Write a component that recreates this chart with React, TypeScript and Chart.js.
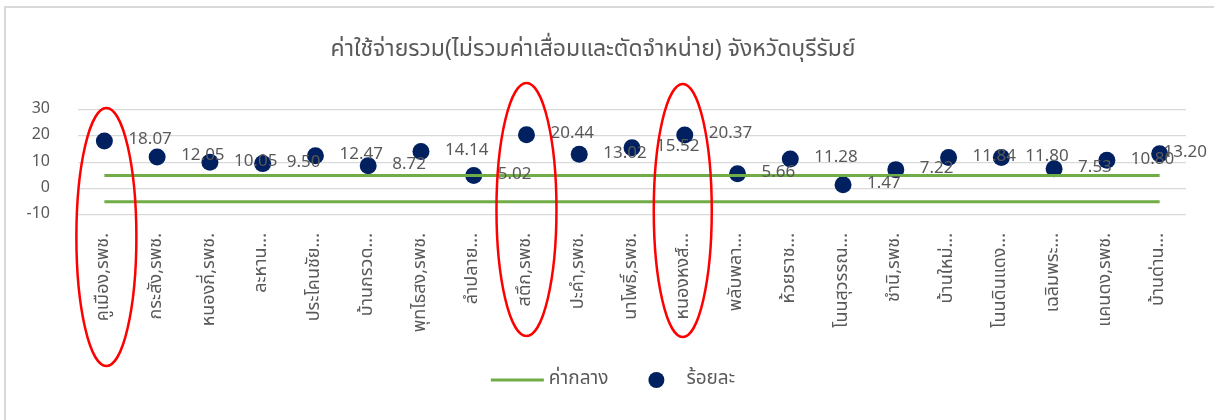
import React, { useEffect, useRef } from "react";
import { Chart, registerables } from "chart.js";

Chart.register(...registerables);

// ---------- data ----------
const chartTitle = "ค่าใช้จ่ายรวม(ไม่รวมค่าเสื่อมและตัดจำหน่าย) จังหวัดบุรีรัมย์";

const hospitalLabels = [
  "คูเมือง,รพช.",
  "กระสัง,รพช.",
  "หนองกี่,รพช.",
  "ละหาน...",
  "ประโคนชัย...",
  "บ้านกรวด...",
  "พุทไธสง,รพช.",
  "ลำปลาย...",
  "สตึก,รพช.",
  "ปะคำ,รพช.",
  "นาโพธิ์,รพช.",
  "หนองหงส์...",
  "พลับพลา...",
  "ห้วยราช...",
  "โนนสุวรรณ...",
  "ชำนิ,รพช.",
  "บ้านใหม่...",
  "โนนดินแดง...",
  "เฉลิมพระ...",
  "แคนดง,รพช.",
  "บ้านด่าน...",
];

const percentValues = [
  18.07, 12.05, 10.05, 9.5, 12.47, 8.72, 14.14, 5.02, 20.44, 13.02, 15.52,
  20.37, 5.66, 11.28, 1.47, 7.22, 11.84, 11.8, 7.53, 10.8, 13.2,
];

const medianLabel = "ค่ากลาง";
const percentLabel = "ร้อยละ";
const medianBandLevels = [5, -5];

const yTickMin = -10;
const yTickMax = 30;
const yTickStep = 10;

const highlightedIndices = [0, 8, 11];

// ---------- styles ----------
const GREEN = "#70AD47";
const NAVY = "#002060";
const TEXT = "#595959";
const GRID = "#D9D9D9";
const RED = "#FF0000";
const FONT = "'Segoe UI', 'Noto Sans Thai', 'Noto Sans', 'DejaVu Sans', sans-serif";

// ellipse annotation geometry (pixels, relative to category centre / canvas)
const highlightShapes = [
  { dx: 2, top: 108, bottom: 366, rx: 30 },
  { dx: 0, top: 83, bottom: 336, rx: 30 },
  { dx: -2, top: 84, bottom: 337, rx: 29 },
];

const dataLabelPlugin = {
  id: "pointValueLabels",
  afterDatasetsDraw(chart: any) {
    const ctx = chart.ctx;
    const meta = chart.getDatasetMeta(chart.data.datasets.length - 1);
    ctx.save();
    ctx.font = `17px ${FONT}`;
    ctx.fillStyle = TEXT;
    ctx.textBaseline = "middle";
    ctx.textAlign = "left";
    meta.data.forEach((el: any, i: number) => {
      const txt = percentValues[i].toFixed(2);
      const w = ctx.measureText(txt).width;
      let x = el.x + 24;
      if (x + w > chart.width - 7) x = chart.width - 7 - w;
      ctx.fillText(txt, x, el.y);
    });
    ctx.restore();
  },
};

const highlightPlugin = {
  id: "highlightEllipses",
  afterDraw(chart: any) {
    const ctx = chart.ctx;
    const xs = chart.scales.x;
    ctx.save();
    ctx.strokeStyle = RED;
    ctx.lineWidth = 2.5;
    highlightedIndices.forEach((idx, k) => {
      const s = highlightShapes[k];
      const cx = xs.getPixelForValue(idx) + s.dx;
      const cy = (s.top + s.bottom) / 2;
      const ry = (s.bottom - s.top) / 2;
      ctx.beginPath();
      ctx.ellipse(cx, cy, s.rx, ry, 0, 0, Math.PI * 2);
      ctx.stroke();
    });
    ctx.restore();
  },
};

const legendPlugin = {
  id: "customLegend",
  afterDraw(chart: any) {
    const ctx = chart.ctx;
    const y = chart.height - 40;
    ctx.save();
    ctx.font = `19px ${FONT}`;
    const t1 = ctx.measureText(medianLabel).width;
    const t2 = ctx.measureText(percentLabel).width;
    const lineW = 53, gap1 = 5, gap2 = 40, circleD = 16, gap3 = 22;
    const total = lineW + gap1 + t1 + gap2 + circleD + gap3 + t2;
    let x = (chart.width - total) / 2 + 6;
    ctx.strokeStyle = GREEN;
    ctx.lineWidth = 3;
    ctx.beginPath();
    ctx.moveTo(x, y);
    ctx.lineTo(x + lineW, y);
    ctx.stroke();
    x += lineW + gap1;
    ctx.fillStyle = TEXT;
    ctx.textBaseline = "middle";
    ctx.textAlign = "left";
    ctx.fillText(medianLabel, x, y);
    x += t1 + gap2;
    ctx.fillStyle = NAVY;
    ctx.beginPath();
    ctx.arc(x + circleD / 2, y, circleD / 2, 0, Math.PI * 2);
    ctx.fill();
    x += circleD + gap3;
    ctx.fillStyle = TEXT;
    ctx.fillText(percentLabel, x, y);
    ctx.restore();
  },
};

export default function App() {
  const canvasRef = useRef<HTMLCanvasElement | null>(null);

  useEffect(() => {
    if (!canvasRef.current) return;
    const first = hospitalLabels[0];
    const last = hospitalLabels[hospitalLabels.length - 1];
    const medianDatasets = medianBandLevels.map((level) => ({
      type: "line" as const,
      label: medianLabel,
      data: [
        { x: first, y: level },
        { x: last, y: level },
      ],
      borderColor: GREEN,
      backgroundColor: GREEN,
      borderWidth: 3,
      pointRadius: 0,
      pointHoverRadius: 0,
      fill: false,
    }));

    const chart = new Chart(canvasRef.current, {
      type: "line",
      data: {
        labels: hospitalLabels,
        datasets: [
          ...medianDatasets,
          {
            type: "line" as const,
            label: percentLabel,
            data: percentValues,
            showLine: false,
            pointRadius: 8.5,
            pointHoverRadius: 8.5,
            pointBackgroundColor: NAVY,
            pointBorderColor: NAVY,
            pointBorderWidth: 0,
            borderColor: NAVY,
            backgroundColor: NAVY,
          },
        ],
      },
      options: {
        animation: false,
        responsive: false,
        maintainAspectRatio: false,
        layout: { padding: { top: 38, left: 0, right: 28, bottom: 70 } },
        plugins: {
          legend: { display: false },
          tooltip: { enabled: false },
          title: {
            display: true,
            text: chartTitle,
            color: TEXT,
            font: { family: FONT, size: 23, weight: "normal" },
            padding: { top: 0, bottom: 44 },
          },
        },
        scales: {
          x: {
            type: "category",
            offset: true,
            grid: { display: false, drawTicks: false },
            border: { display: false },
            ticks: {
              color: TEXT,
              font: { family: FONT, size: 18 },
              minRotation: 90,
              maxRotation: 90,
              autoSkip: false,
              padding: 18,
            },
            afterFit: (scale: any) => {
              scale.height = 135;
            },
          },
          y: {
            min: yTickMin,
            max: yTickMax,
            grid: { color: GRID, lineWidth: 1.3, drawTicks: false },
            border: { display: false },
            ticks: {
              stepSize: yTickStep,
              color: TEXT,
              font: { family: FONT, size: 16 },
              padding: 28,
            },
            afterFit: (scale: any) => {
              scale.width = 78;
            },
          },
        },
      },
      plugins: [dataLabelPlugin, highlightPlugin, legendPlugin],
    });
    return () => chart.destroy();
  }, []);

  return (
    <div
      style={{
        position: "fixed",
        left: 0,
        top: 0,
        width: 1214,
        height: 420,
        overflow: "hidden",
        background: "#fff",
      }}
    >
      <div
        style={{
          position: "absolute",
          left: 4,
          top: 6,
          width: 1400,
          height: 600,
          border: "2px solid #D9D9D9",
        }}
      />
      <canvas
        ref={canvasRef}
        width={1214}
        height={420}
        style={{ position: "absolute", left: 0, top: 0, width: 1214, height: 420 }}
      />
    </div>
  );
}
